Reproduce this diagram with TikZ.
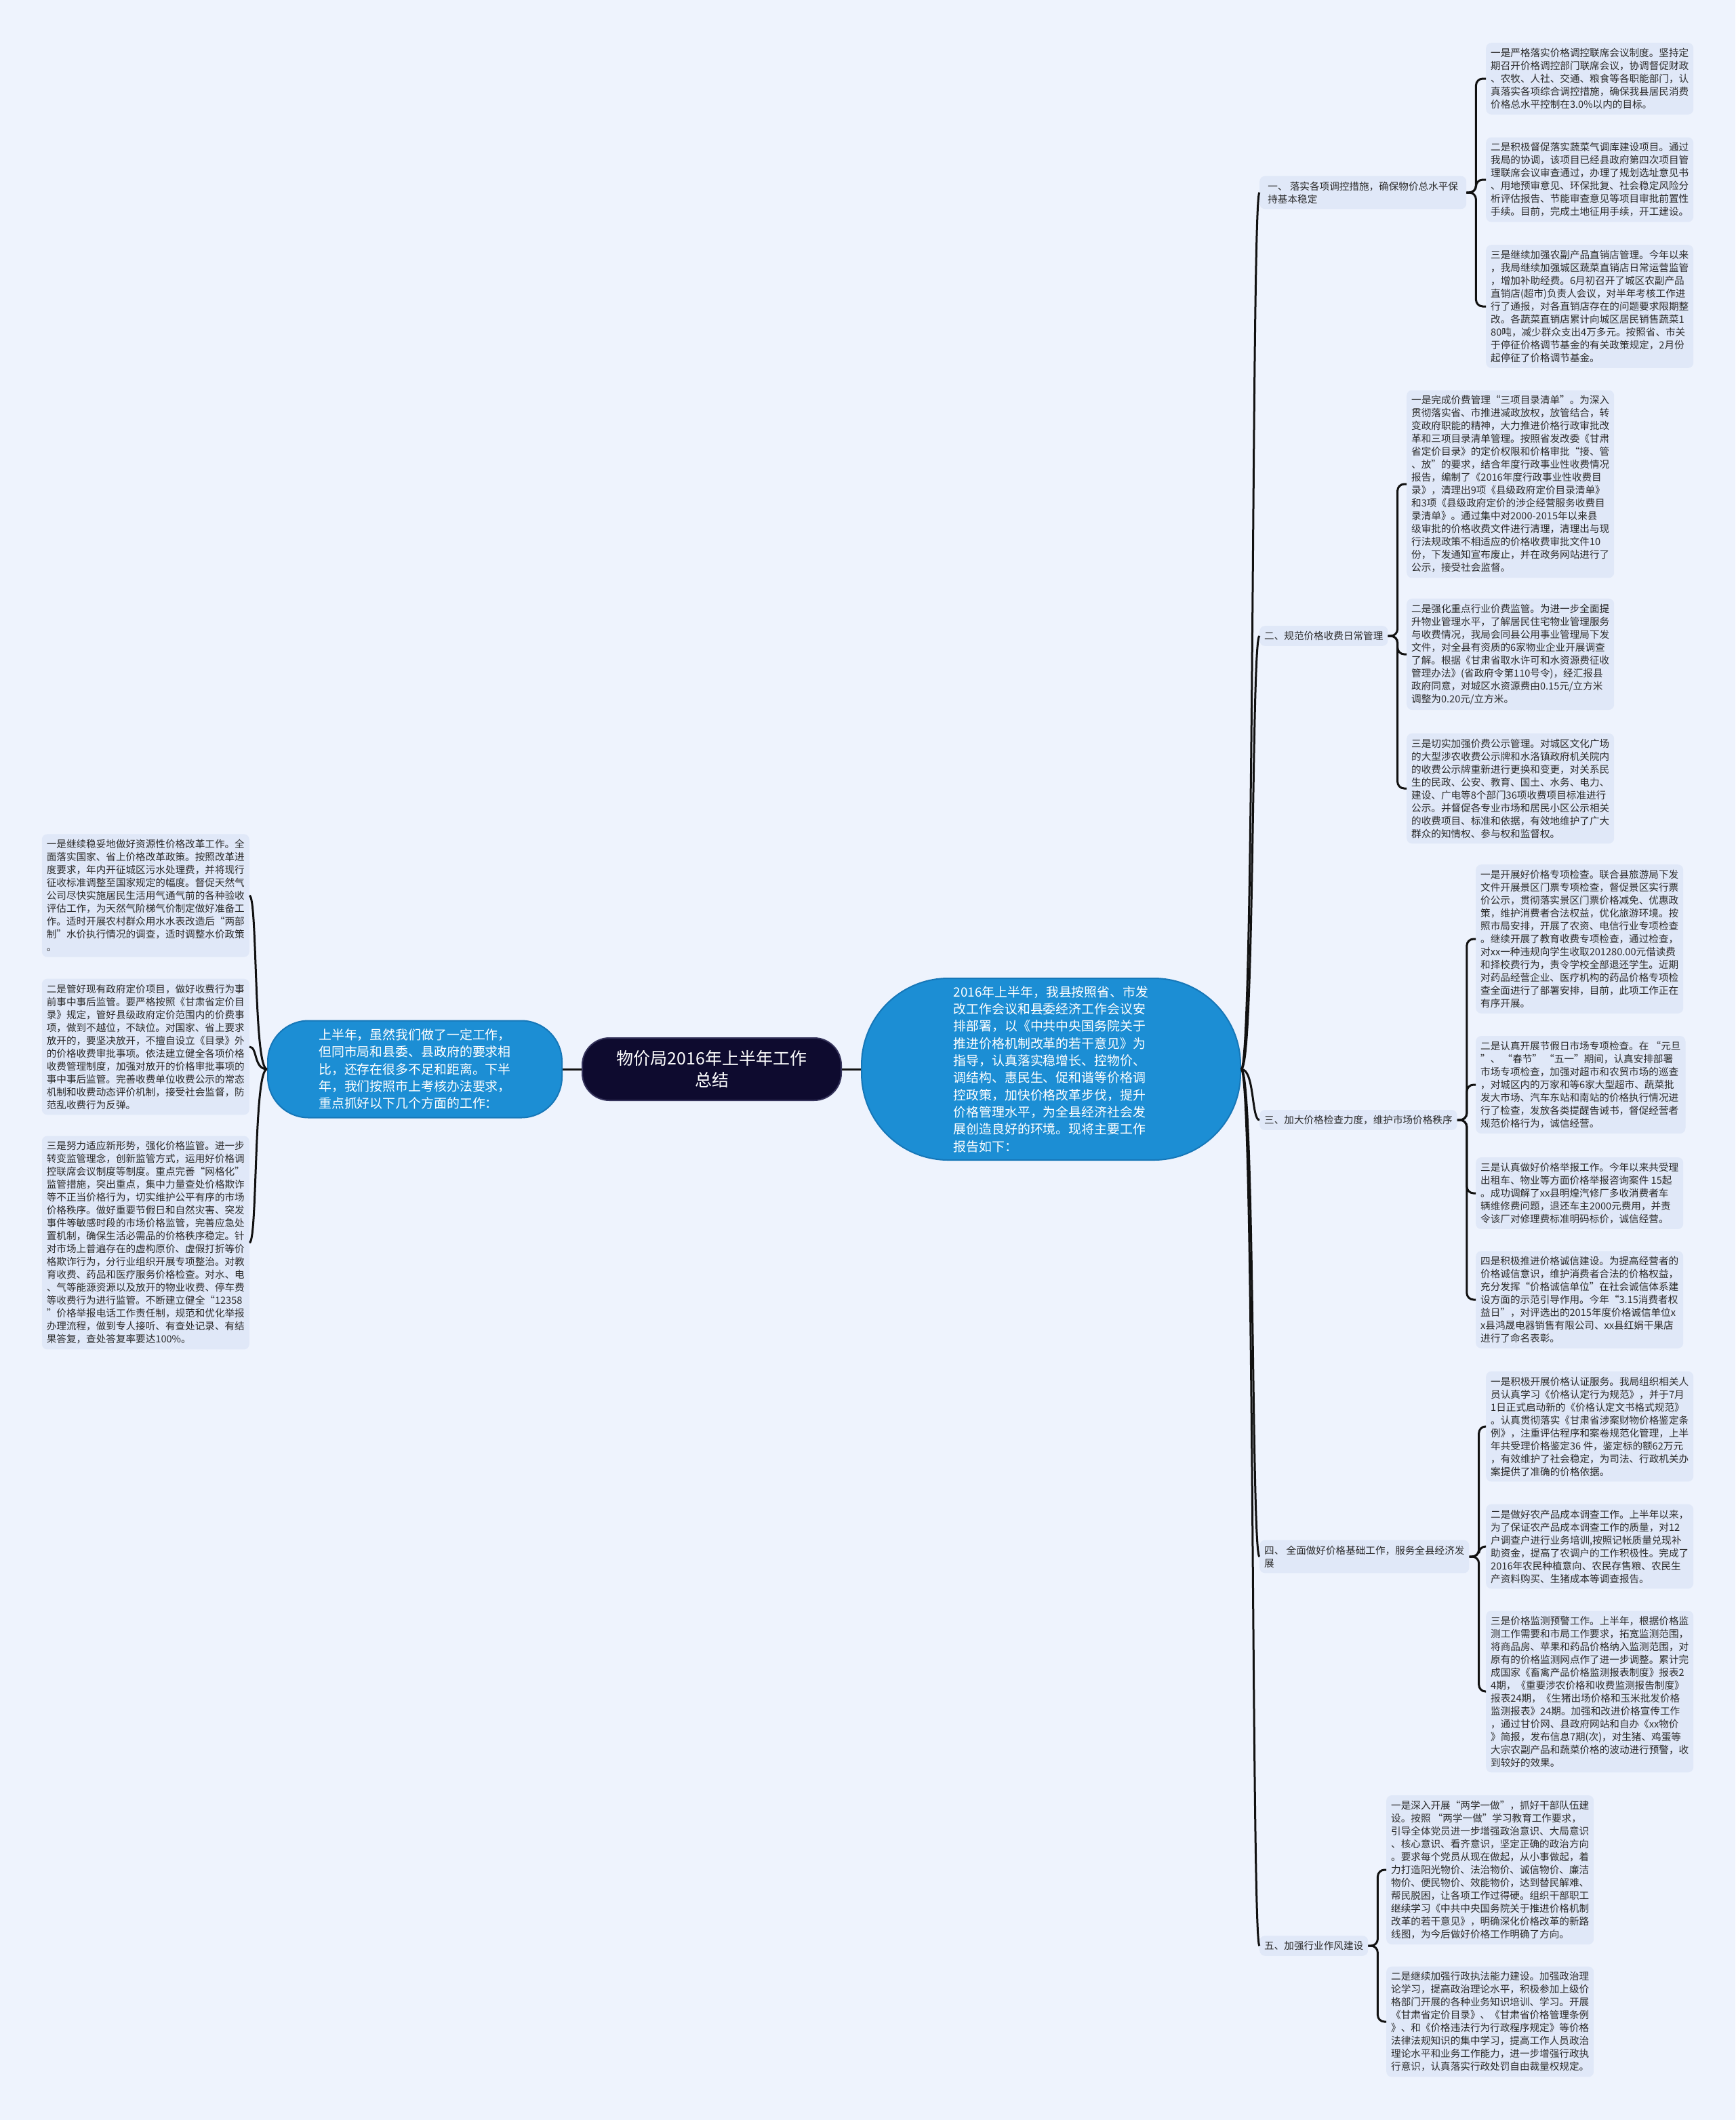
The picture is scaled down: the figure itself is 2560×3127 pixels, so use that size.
\documentclass[tikz,border=0pt]{standalone}
\usepackage{fontspec}
\newfontfamily\cjk{Noto Sans CJK SC}
\usetikzlibrary{positioning}
\definecolor{mapBg}{HTML}{EEF3FD}
\definecolor{leafFill}{HTML}{E0E8F8}
\definecolor{mapBlue}{HTML}{1C8ED4}
\definecolor{mapBlueEdge}{HTML}{1677B8}
\definecolor{mapNavy}{HTML}{0E0B2F}
\definecolor{mapNavyEdge}{HTML}{34325A}
\definecolor{textDark}{HTML}{2B2B2B}
\definecolor{lineDark}{HTML}{111111}
\tikzset{
  lineK/.style={draw=lineDark, line width=3pt},
  boxLeaf/.style={rectangle, rounded corners=8pt, fill=leafFill, text=textDark,
                  align=left, font=\cjk\fontsize{14.6}{19}\selectfont,
                  inner xsep=7pt, inner ysep=8pt, minimum width=305pt, anchor=west},
  boxTopic/.style={rectangle, rounded corners=8pt, fill=leafFill, text=textDark,
                   align=left, font=\cjk\fontsize{14.6}{19}\selectfont,
                   inner xsep=7pt, inner ysep=8pt, anchor=west},
  boxBlue/.style={rectangle, rounded corners=60pt, fill=mapBlue, draw=mapBlueEdge,
                  line width=2pt, text=white, align=left,
                  font=\cjk\fontsize{18.9}{25.3}\selectfont},
  boxRoot/.style={rectangle, rounded corners=40pt, fill=mapNavy, draw=mapNavyEdge,
                  line width=2pt, text=white, align=center,
                  font=\cjk\fontsize{25}{32}\selectfont,
                  minimum width=382pt, minimum height=92pt},
}
\begin{document}
\begin{tikzpicture}[x=1pt, y=-1pt]
    \useasboundingbox (0,0) rectangle (2560,3127);
    \fill[mapBg] (0,0) rectangle (2560,3127);

    \node[boxRoot] (root) at (1050,1577) {物价局2016年上半年工作\\总结};
    \node[boxBlue, left=28pt of root, minimum width=434pt, minimum height=143pt] (plan)
      {上半年，虽然我们做了一定工作，\\但同市局和县委、县政府的要求相\\比，还存在很多不足和距离。下半\\年，我们按照市上考核办法要求，\\重点抓好以下几个方面的工作：};
    \node[boxBlue, right=28pt of root, rounded corners=128pt, minimum width=559pt, minimum height=268pt] (intro)
      {2016年上半年，我县按照省、市发\\改工作会议和县委经济工作会议安\\排部署，以《中共中央国务院关于\\推进价格机制改革的若干意见》为\\指导，认真落实稳增长、控物价、\\调结构、惠民生、促和谐等价格调\\控政策，加快价格改革步伐，提升\\价格管理水平，为全县经济社会发\\展创造良好的环境。现将主要工作\\报告如下：};

    \node[boxLeaf, anchor=east] (plan1) at (368,1321)
      {一是继续稳妥地做好资源性价格改革工作。全\\面落实国家、省上价格改革政策。按照改革进\\度要求，年内开征城区污水处理费，并将现行\\征收标准调整至国家规定的幅度。督促天然气\\公司尽快实施居民生活用气通气前的各种验收\\评估工作，为天然气阶梯气价制定做好准备工\\作。适时开展农村群众用水水表改造后“两部\\制”水价执行情况的调查，适时调整水价政策\\。};
    \node[boxLeaf, anchor=east] (plan2) at (368,1544)
      {二是管好现有政府定价项目，做好收费行为事\\前事中事后监管。要严格按照《甘肃省定价目\\录》规定，管好县级政府定价范围内的价费事\\项，做到不越位，不缺位。对国家、省上要求\\放开的，要坚决放开，不擅自设立《目录》外\\的价格收费审批事项。依法建立健全各项价格\\收费管理制度，加强对放开的价格审批事项的\\事中事后监管。完善收费单位收费公示的常态\\机制和收费动态评价机制，接受社会监督，防\\范乱收费行为反弹。};
    \node[boxLeaf, anchor=east] (plan3) at (368,1833)
      {三是努力适应新形势，强化价格监管。进一步\\转变监管理念，创新监管方式，运用好价格调\\控联席会议制度等制度。重点完善“网格化”\\监管措施，突出重点，集中力量查处价格欺诈\\等不正当价格行为，切实维护公平有序的市场\\价格秩序。做好重要节假日和自然灾害、突发\\事件等敏感时段的市场价格监管，完善应急处\\置机制，确保生活必需品的价格秩序稳定。针\\对市场上普遍存在的虚构原价、虚假打折等价\\格欺诈行为，分行业组织开展专项整治。对教\\育收费、药品和医疗服务价格检查。对水、电\\、气等能源资源以及放开的物业收费、停车费\\等收费行为进行监管。不断建立健全“12358\\”价格举报电话工作责任制，规范和优化举报\\办理流程，做到专人接听、有查处记录、有结\\果答复，查处答复率要达100\%。};

    \node[boxTopic, minimum width=305pt] (topic1) at (1858,284) {一、 落实各项调控措施，确保物价总水平保\\持基本稳定};
    \node[boxTopic] (topic2) at (1858,938) {二、规范价格收费日常管理};
    \node[boxTopic] (topic3) at (1858,1652) {三、加大价格检查力度，维护市场价格秩序};
    \node[boxTopic, minimum width=305pt] (topic4) at (1858,2296) {四、 全面做好价格基础工作，服务全县经济发\\展};
    \node[boxTopic] (topic5) at (1858,2870) {五、加强行业作风建设};

    \node[boxLeaf] (item1a) at (2192,116)
      {一是严格落实价格调控联席会议制度。坚持定\\期召开价格调控部门联席会议，协调督促财政\\、农牧、人社、交通、粮食等各职能部门，认\\真落实各项综合调控措施，确保我县居民消费\\价格总水平控制在3.0\%以内的目标。};
    \node[boxLeaf] (item1b) at (2192,265)
      {二是积极督促落实蔬菜气调库建设项目。通过\\我局的协调，该项目已经县政府第四次项目管\\理联席会议审查通过，办理了规划选址意见书\\、用地预审意见、环保批复、社会稳定风险分\\析评估报告、节能审查意见等项目审批前置性\\手续。目前，完成土地征用手续，开工建设。};
    \node[boxLeaf] (item1c) at (2192,452)
      {三是继续加强农副产品直销店管理。今年以来\\，我局继续加强城区蔬菜直销店日常运营监管\\，增加补助经费。6月初召开了城区农副产品\\直销店(超市)负责人会议，对半年考核工作进\\行了通报，对各直销店存在的问题要求限期整\\改。各蔬菜直销店累计向城区居民销售蔬菜1\\80吨，减少群众支出4万多元。按照省、市关\\于停征价格调节基金的有关政策规定，2月份\\起停征了价格调节基金。};

    \node[boxLeaf] (item2a) at (2075,714)
      {一是完成价费管理“三项目录清单”。为深入\\贯彻落实省、市推进减政放权，放管结合，转\\变政府职能的精神，大力推进价格行政审批改\\革和三项目录清单管理。按照省发改委《甘肃\\省定价目录》的定价权限和价格审批“接、管\\、放”的要求，结合年度行政事业性收费情况\\报告，编制了《2016年度行政事业性收费目\\录》，清理出9项《县级政府定价目录清单》\\和3项《县级政府定价的涉企经营服务收费目\\录清单》。通过集中对2000-2015年以来县\\级审批的价格收费文件进行清理，清理出与现\\行法规政策不相适应的价格收费审批文件10\\份，下发通知宣布废止，并在政务网站进行了\\公示，接受社会监督。};
    \node[boxLeaf] (item2b) at (2075,965)
      {二是强化重点行业价费监管。为进一步全面提\\升物业管理水平，了解居民住宅物业管理服务\\与收费情况，我局会同县公用事业管理局下发\\文件，对全县有资质的6家物业企业开展调查\\了解。根据《甘肃省取水许可和水资源费征收\\管理办法》(省政府令第110号令)，经汇报县\\政府同意，对城区水资源费由0.15元/立方米\\调整为0.20元/立方米。};
    \node[boxLeaf] (item2c) at (2075,1163)
      {三是切实加强价费公示管理。对城区文化广场\\的大型涉农收费公示牌和水洛镇政府机关院内\\的收费公示牌重新进行更换和变更，对关系民\\生的民政、公安、教育、国土、水务、电力、\\建设、广电等8个部门36项收费项目标准进行\\公示。并督促各专业市场和居民小区公示相关\\的收费项目、标准和依据，有效地维护了广大\\群众的知情权、参与权和监督权。};

    \node[boxLeaf] (item3a) at (2177,1385)
      {一是开展好价格专项检查。联合县旅游局下发\\文件开展景区门票专项检查，督促景区实行票\\价公示，贯彻落实景区门票价格减免、优惠政\\策，维护消费者合法权益，优化旅游环境。按\\照市局安排，开展了农资、电信行业专项检查\\。继续开展了教育收费专项检查，通过检查，\\对xx一种违规向学生收取201280.00元借读费\\和择校费行为，责令学校全部退还学生。近期\\对药品经营企业、医疗机构的药品价格专项检\\查全面进行了部署安排，目前，此项工作正在\\有序开展。};
    \node[boxLeaf] (item3b) at (2177,1600)
      {二是认真开展节假日市场专项检查。在 “元旦\\”、 “春节” “五一”期间，认真安排部署\\市场专项检查，加强对超市和农贸市场的巡查\\，对城区内的万家和等6家大型超市、蔬菜批\\发大市场、汽车东站和南站的价格执行情况进\\行了检查，发放各类提醒告诫书，督促经营者\\规范价格行为，诚信经营。};
    \node[boxLeaf] (item3c) at (2177,1760)
      {三是认真做好价格举报工作。今年以来共受理\\出租车、物业等方面价格举报咨询案件 15起\\。成功调解了xx县明煌汽修厂多收消费者车\\辆维修费问题，退还车主2000元费用，并责\\令该厂对修理费标准明码标价，诚信经营。};
    \node[boxLeaf] (item3d) at (2177,1917)
      {四是积极推进价格诚信建设。为提高经营者的\\价格诚信意识，维护消费者合法的价格权益，\\充分发挥“价格诚信单位”在社会诚信体系建\\设方面的示范引导作用。今年“3.15消费者权\\益日”，对评选出的2015年度价格诚信单位x\\x县鸿晟电器销售有限公司、xx县红娟干果店\\进行了命名表彰。};

    \node[boxLeaf] (item4a) at (2192,2104)
      {一是积极开展价格认证服务。我局组织相关人\\员认真学习《价格认定行为规范》，并于7月\\1日正式启动新的《价格认定文书格式规范》\\。认真贯彻落实《甘肃省涉案财物价格鉴定条\\例》，注重评估程序和案卷规范化管理，上半\\年共受理价格鉴定36 件，鉴定标的额62万元\\，有效维护了社会稳定，为司法、行政机关办\\案提供了准确的价格依据。};
    \node[boxLeaf] (item4b) at (2192,2281)
      {二是做好农产品成本调查工作。上半年以来，\\为了保证农产品成本调查工作的质量，对12\\户调查户进行业务培训,按照记帐质量兑现补\\助资金，提高了农调户的工作积极性。完成了\\2016年农民种植意向、农民存售粮、农民生\\产资料购买、生猪成本等调查报告。};
    \node[boxLeaf] (item4c) at (2192,2495)
      {三是价格监测预警工作。上半年，根据价格监\\测工作需要和市局工作要求，拓宽监测范围，\\将商品房、苹果和药品价格纳入监测范围，对\\原有的价格监测网点作了进一步调整。累计完\\成国家《畜禽产品价格监测报表制度》报表2\\4期，《重要涉农价格和收费监测报告制度》\\报表24期，《生猪出场价格和玉米批发价格\\监测报表》24期。加强和改进价格宣传工作\\，通过甘价网、县政府网站和自办《xx物价\\》简报，发布信息7期(次)，对生猪、鸡蛋等\\大宗农副产品和蔬菜价格的波动进行预警，收\\到较好的效果。};

    \node[boxLeaf] (item5a) at (2045,2758)
      {一是深入开展“两学一做”，抓好干部队伍建\\设。按照 “两学一做”学习教育工作要求，\\引导全体党员进一步增强政治意识、大局意识\\、核心意识、看齐意识，坚定正确的政治方向\\。要求每个党员从现在做起，从小事做起，着\\力打造阳光物价、法治物价、诚信物价、廉洁\\物价、便民物价、效能物价，达到替民解难、\\帮民脱困，让各项工作过得硬。组织干部职工\\继续学习《中共中央国务院关于推进价格机制\\改革的若干意见》，明确深化价格改革的新路\\线图，为今后做好价格工作明确了方向。};
    \node[boxLeaf] (item5b) at (2045,2982)
      {二是继续加强行政执法能力建设。加强政治理\\论学习，提高政治理论水平，积极参加上级价\\格部门开展的各种业务知识培训、学习。开展\\《甘肃省定价目录》、《甘肃省价格管理条例\\》、和《价格违法行为行政程序规定》等价格\\法律法规知识的集中学习，提高工作人员政治\\理论水平和业务工作能力，进一步增强行政执\\行意识，认真落实行政处罚自由裁量权规定。};

    \draw[lineK] (plan.east) -- (root.west);
    \draw[lineK] (root.east) -- (intro.west);

    \draw[lineK] (plan.west) .. controls +(-20,0) and +(12,0) .. (plan1.east);
    \draw[lineK] (plan.west) .. controls +(-20,0) and +(12,0) .. (plan2.east);
    \draw[lineK] (plan.west) .. controls +(-20,0) and +(12,0) .. (plan3.east);

    \draw[lineK] (intro.east) .. controls +(20,0) and +(-12,0) .. (topic1.west);
    \draw[lineK] (intro.east) .. controls +(20,0) and +(-12,0) .. (topic2.west);
    \draw[lineK] (intro.east) .. controls +(20,0) and +(-12,0) .. (topic3.west);
    \draw[lineK] (intro.east) .. controls +(20,0) and +(-12,0) .. (topic4.west);
    \draw[lineK] (intro.east) .. controls +(20,0) and +(-12,0) .. (topic5.west);

    \draw[lineK, rounded corners=10pt] (topic1.east) -- ++(14,0) |- (item1a.west);
    \draw[lineK, rounded corners=10pt] (topic1.east) -- ++(14,0) |- (item1b.west);
    \draw[lineK, rounded corners=10pt] (topic1.east) -- ++(14,0) |- (item1c.west);
    \draw[lineK, rounded corners=10pt] (topic2.east) -- ++(14,0) |- (item2a.west);
    \draw[lineK, rounded corners=10pt] (topic2.east) -- ++(14,0) |- (item2b.west);
    \draw[lineK, rounded corners=10pt] (topic2.east) -- ++(14,0) |- (item2c.west);
    \draw[lineK, rounded corners=10pt] (topic3.east) -- ++(14,0) |- (item3a.west);
    \draw[lineK, rounded corners=10pt] (topic3.east) -- ++(14,0) |- (item3b.west);
    \draw[lineK, rounded corners=10pt] (topic3.east) -- ++(14,0) |- (item3c.west);
    \draw[lineK, rounded corners=10pt] (topic3.east) -- ++(14,0) |- (item3d.west);
    \draw[lineK, rounded corners=10pt] (topic4.east) -- ++(14,0) |- (item4a.west);
    \draw[lineK, rounded corners=10pt] (topic4.east) -- ++(14,0) |- (item4b.west);
    \draw[lineK, rounded corners=10pt] (topic4.east) -- ++(14,0) |- (item4c.west);
    \draw[lineK, rounded corners=10pt] (topic5.east) -- ++(14,0) |- (item5a.west);
    \draw[lineK, rounded corners=10pt] (topic5.east) -- ++(14,0) |- (item5b.west);
\end{tikzpicture}
\end{document}
